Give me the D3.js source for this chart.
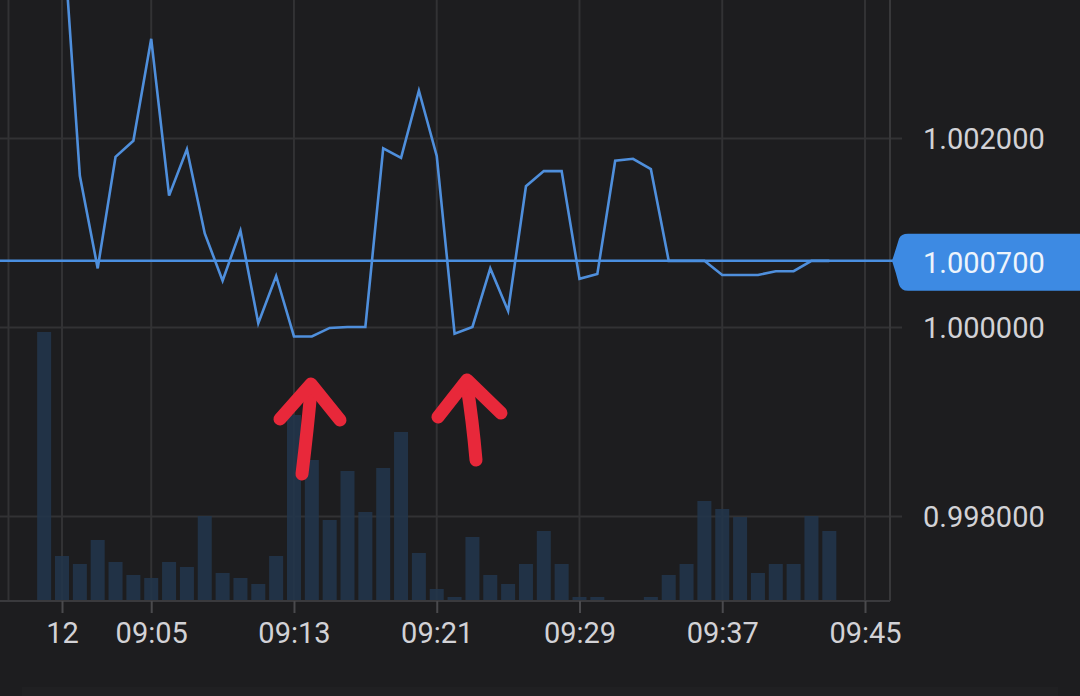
<!DOCTYPE html>
<html>
<head>
<meta charset="utf-8">
<script src="https://cdn.jsdelivr.net/npm/d3@7/dist/d3.min.js"></script>
<style>
  html, body { margin: 0; padding: 0; background: #1d1d1f; }
  svg { display: block; }
  text { font-family: Roboto, "Liberation Sans", sans-serif; }
</style>
</head>
<body>
<svg id="chart" width="1080" height="696"></svg>
<script>
// ---- data ----
const times = ["08:59","09:00","09:01","09:02","09:03","09:04","09:05","09:06","09:07","09:08",
               "09:09","09:10","09:11","09:12","09:13","09:14","09:15","09:16","09:17","09:18",
               "09:19","09:20","09:21","09:22","09:23","09:24","09:25","09:26","09:27","09:28",
               "09:29","09:30","09:31","09:32","09:33","09:34","09:35","09:36","09:37","09:38",
               "09:39","09:40","09:41","09:42","09:43"];
const prices = [1.00480,1.00437,1.00160,1.00062,1.00180,1.00197,1.00305,1.00139,1.00188,1.00099,
                1.00049,1.00102,1.00004,1.00054,0.99990,0.99990,0.99999,1.00000,1.00000,1.00189,
                1.00179,1.00250,1.00181,0.99993,1.00000,1.00062,1.00017,1.00149,1.00165,1.00165,
                1.00051,1.00056,1.00176,1.00178,1.00167,1.00070,1.00070,1.00070,1.00055,1.00055,
                1.00055,1.00059,1.00059,1.00070,1.00070];
const volumes = [269,45,37,61,39,26,23,39,34,85,
                 28,23,17,45,186,141,81,130,89,133,
                 169,48,12,4,64,26,17,37,70,37,
                 4,4,0,0,4,26,37,100,92,84,
                 28,37,37,85,70];
const currentPrice = 1.0007;
const xTickTimes = ["09:00","09:05","09:13","09:21","09:29","09:37","09:45"];
const xTickLabels = ["12","09:05","09:13","09:21","09:29","09:37","09:45"];
const xGridExtra = ["08:57"];
const yTicks = [0.998, 1.000, 1.002];

// ---- helpers ----
const parse = s => { const [h,m] = s.split(":").map(Number); return new Date(2024, 0, 12, h, m); };

const W = 1080, H = 696;
const plotRight = 890, plotBottom = 601;

const svg = d3.select("#chart");
svg.append("rect").attr("width", W).attr("height", H).attr("fill", "#1d1d1f");
svg.append("rect").attr("x", 22).attr("y", 687).attr("width", 1036).attr("height", 9).attr("fill", "#202022");

const x = d3.scaleTime().domain([parse("09:00"), parse("09:45")]).range([62, 865]);
const y = d3.scaleLinear().domain([0.998, 1.002]).range([516, 138]);
const yv = d3.scaleLinear().domain([0, d3.max(volumes)]).range([plotBottom, 332]);
const barW = 14;

const grid = svg.append("g");
// horizontal gridlines
grid.selectAll("line.h").data(yTicks).join("line")
  .attr("x1", 0).attr("x2", 902)
  .attr("y1", d => Math.round(y(d)) + 0.5).attr("y2", d => Math.round(y(d)) + 0.5)
  .attr("stroke", "#323234").attr("stroke-width", 2);
// vertical gridlines
grid.selectAll("line.v").data(xTickTimes.concat(xGridExtra)).join("line")
  .attr("x1", d => x(parse(d))).attr("x2", d => x(parse(d)))
  .attr("y1", 0).attr("y2", plotBottom)
  .attr("stroke", "#323234").attr("stroke-width", 2);
// right border
grid.append("line").attr("x1", plotRight).attr("x2", plotRight).attr("y1", 0).attr("y2", plotBottom)
  .attr("stroke", "#38383a").attr("stroke-width", 2);

const clip = svg.append("defs").append("clipPath").attr("id", "plotclip")
  .append("rect").attr("x", 0).attr("y", 0).attr("width", plotRight).attr("height", plotBottom);

const plot = svg.append("g").attr("clip-path", "url(#plotclip)");

// volume bars
plot.selectAll("rect.vol").data(volumes).join("rect")
  .attr("x", (d, i) => x(parse(times[i])) - barW / 2)
  .attr("width", barW)
  .attr("y", d => yv(d))
  .attr("height", d => plotBottom - yv(d))
  .attr("fill", "#22354a")
  .attr("opacity", 0.9);

// current price line
svg.append("line")
  .attr("x1", 0).attr("x2", 894)
  .attr("y1", y(currentPrice)).attr("y2", y(currentPrice))
  .attr("stroke", "#4a8fe0").attr("stroke-width", 2.5);

// price line
const line = d3.line()
  .x((d, i) => x(parse(times[i])))
  .y(d => y(d));
plot.append("path").datum(prices)
  .attr("d", line)
  .attr("fill", "none")
  .attr("stroke", "#4f8fdc")
  .attr("stroke-width", 2.6)
  .attr("stroke-linejoin", "miter");

// x axis baseline + ticks
svg.append("line").attr("x1", 0).attr("x2", plotRight).attr("y1", plotBottom).attr("y2", plotBottom)
  .attr("stroke", "#3a3a3d").attr("stroke-width", 2);
const xAxis = d3.axisBottom(x)
  .tickValues(xTickTimes.map(parse))
  .tickSize(12)
  .tickFormat((d, i) => xTickLabels[i]);
const gx = svg.append("g").attr("transform", `translate(0,${plotBottom})`).call(xAxis);
gx.select(".domain").remove();
gx.selectAll(".tick line").attr("stroke", "#4a4a4d").attr("stroke-width", 2);
gx.selectAll(".tick text")
  .attr("y", 32).attr("dy", "0.35em")
  .attr("fill", "#d2d2d6")
  .attr("font-size", 29);

// y axis labels
const yAxis = d3.axisRight(y).tickValues(yTicks).tickSize(0).tickFormat(d3.format(".6f"));
const gy = svg.append("g").attr("transform", "translate(923,0)").call(yAxis);
gy.select(".domain").remove();
gy.selectAll(".tick text")
  .attr("x", 0).attr("dy", "0.35em")
  .attr("fill", "#d2d2d6")
  .attr("font-size", 29)
  .attr("text-anchor", "start");

// current price badge
const cy = y(currentPrice);
const badge = `M892,${cy} Q896,${cy-12} 899,${cy-22} Q901,${cy-27} 908,${cy-27} L1080,${cy-27} L1080,${cy+30} L908,${cy+30} Q901,${cy+30} 899,${cy+24} Q896,${cy+12} 892,${cy} Z`;
svg.append("path").attr("d", badge).attr("fill", "#3d8ae3");
svg.append("text").attr("x", 923).attr("y", cy + 2).attr("dy", "0.35em")
  .attr("fill", "#eef4fc").attr("font-size", 29)
  .text(d3.format(".6f")(currentPrice));

// hand-drawn red arrows (annotations)
const arrows = [
  { apex: [311, 384], left: [280, 419], right: [340, 420], tail: [302, 474] },
  { apex: [467, 380], left: [438, 417], right: [501, 413], tail: [476, 460] }
];
const ag = svg.append("g").attr("fill", "none").attr("stroke", "#e8283a")
  .attr("stroke-width", 13).attr("stroke-linecap", "round").attr("stroke-linejoin", "round");
arrows.forEach(a => {
  ag.append("path").attr("d", `M${a.tail[0]},${a.tail[1]} Q${(a.tail[0]+a.apex[0])/2+1},${(a.tail[1]+a.apex[1])/2} ${a.apex[0]},${a.apex[1]+6}`);
  ag.append("path").attr("d", `M${a.left[0]},${a.left[1]} L${a.apex[0]},${a.apex[1]} L${a.right[0]},${a.right[1]}`);
});
</script>
</body>
</html>
